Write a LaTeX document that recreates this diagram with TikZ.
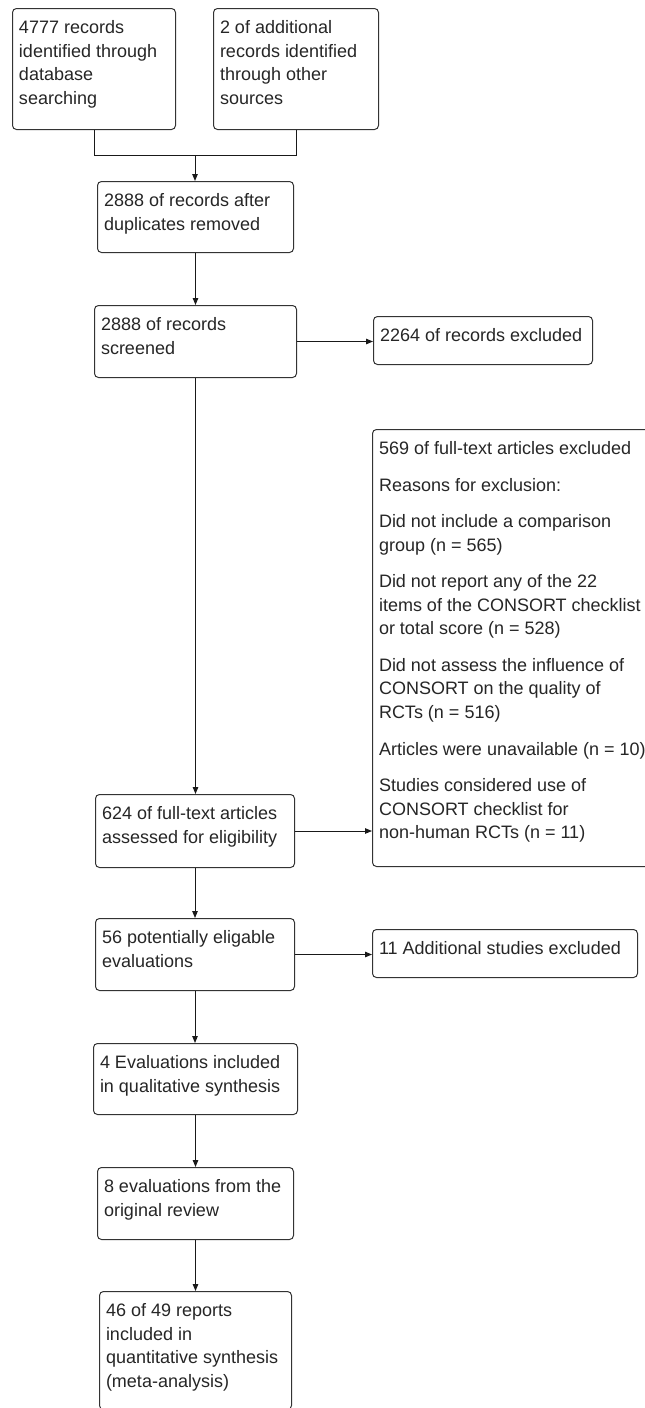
\documentclass[tikz,border=0pt]{standalone}
\usepackage{fontspec}
\setmainfont{Liberation Sans}
\usetikzlibrary{arrows.meta}
\newcommand{\bxt}[3]{\parbox[c][#2pt][t]{#1pt}{\raggedright\leftskip=6.5pt\parskip=12.9pt\rule{0pt}{25pt}#3}}
\begin{document}
\begin{tikzpicture}[x=1pt,y=-1pt,
  bx/.style={draw=black!80, line width=1pt, rounded corners=4pt, inner sep=0pt, anchor=north west,
             font=\fontsize{18pt}{23.6pt}\selectfont, text=black!85},
  arr/.style={draw=black!90, line width=1pt, -{Triangle[length=7pt,width=5.5pt]}},
  ln/.style={draw=black!90, line width=1pt}]
\useasboundingbox[fill=white] (0,0) rectangle (645,1408);

\node[bx] (b1) at (12,8) {\bxt{163}{121}{4777 records\\identified through\\database\\searching}};
\node[bx] (b2) at (213,8) {\bxt{165}{121}{2 of additional\\records identified\\through other\\sources}};
\node[bx] (b3) at (97,181) {\bxt{196}{71}{2888 of records after\\duplicates removed}};
\node[bx] (b4) at (94,305) {\bxt{202}{72}{2888 of records\\screened}};
\node[bx] (b5) at (373,316) {\bxt{219}{48}{2264 of records excluded}};
\node[bx] (big) at (372,429) {\bxt{290}{437}{569 of full-text articles excluded\par
Reasons for exclusion:\par
Did not include a comparison\\group (n = 565)\par
Did not report any of the 22\\items of the CONSORT checklist\\or total score (n = 528)\par
Did not assess the influence of\\CONSORT on the quality of\\RCTs (n = 516)\par
Articles were unavailable (n = 10)\par
Studies considered use of\\CONSORT checklist for\\non-human RCTs (n = 11)}};
\node[bx] (b6) at (95,794) {\bxt{199}{73}{624 of full-text articles\\assessed for eligibility}};
\node[bx] (b7) at (95,918) {\bxt{199}{72}{56 potentially eligable\\evaluations}};
\node[bx] (b8) at (372,929) {\bxt{265}{48}{11 Additional studies excluded}};
\node[bx] (b9) at (93,1043) {\bxt{204}{71}{4 Evaluations included\\in qualitative synthesis}};
\node[bx] (b10) at (97,1167) {\bxt{196}{72}{8 evaluations from the\\original review}};
\node[bx] (b11) at (99,1291) {\bxt{192}{118}{46 of 49 reports\\included in\\quantitative synthesis\\(meta-analysis)}};

\coordinate (m) at (195,155);
\draw[ln] (b1.south) |- (b2.south |- m) -- (b2.south);
\draw[arr] (m) -- (m |- b3.north);
\draw[arr] (b3.south) -- (b3.south |- b4.north);
\draw[arr] (b4.east) -- (b4.east -| b5.west);
\draw[arr] (b4.south) -- (b4.south |- b6.north);
\draw[arr] (b6.east) -- (b6.east -| big.west);
\draw[arr] (b6.south) -- (b6.south |- b7.north);
\draw[arr] (b7.east) -- (b7.east -| b8.west);
\draw[arr] (b7.south) -- (b7.south |- b9.north);
\draw[arr] (b9.south) -- (b9.south |- b10.north);
\draw[arr] (b10.south) -- (b10.south |- b11.north);
\end{tikzpicture}
\end{document}
